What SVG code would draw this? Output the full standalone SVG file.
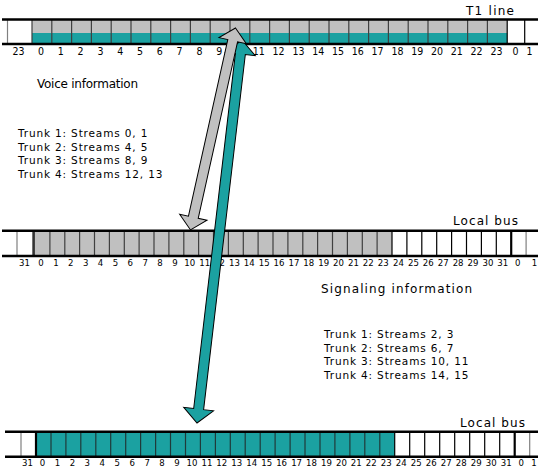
<svg xmlns="http://www.w3.org/2000/svg" width="538" height="470" viewBox="0 0 538 470">
<style>
.bus{stroke:#000;stroke-width:2.4;fill:none}
.sep{stroke:#404040;stroke-width:1.2;fill:none}
.wsep{stroke:#000;stroke-width:1.2;fill:none}
.edge{stroke:#808080;stroke-width:1.2;fill:none}
.thick{stroke:#000;stroke-width:2.2;fill:none}
.num{font-family:"DejaVu Sans",Verdana,sans-serif;font-stretch:condensed;fill:#000;text-anchor:middle}
.n1{font-size:10.5px}
.n2{font-size:9.5px}
.lbl{font-family:"DejaVu Sans",Verdana,sans-serif;font-size:12px;fill:#000}
.trk{font-family:"DejaVu Sans",Verdana,sans-serif;font-size:10.5px;fill:#000;letter-spacing:0.85px}
.gray{fill:#C0C0C0}
.teal{fill:#1BA1A1}
.arrow{stroke:#000;stroke-width:1}
</style>

<g id="t1-line">
<rect class="gray" x="32" y="20" width="475.2" height="13"/>
<rect class="teal" x="32" y="33" width="475.2" height="11"/>
<path class="edge" d="M7.5 20V44"/>
<path class="sep" d="M32 20V44M51.8 20V44M71.6 20V44M91.4 20V44M111.2 20V44M131 20V44M150.8 20V44M170.6 20V44M190.4 20V44M210.2 20V44M230 20V44M249.8 20V44M269.6 20V44M289.4 20V44M309.2 20V44M329 20V44M348.8 20V44M368.6 20V44M388.4 20V44M408.2 20V44M428 20V44M447.8 20V44M467.6 20V44M487.4 20V44"/>
<path class="wsep" d="M507.2 20V44M524.7 20V44"/>
<path class="bus" d="M2 19.5H538M2 44H538"/>
<text class="lbl" x="466" y="14.5" textLength="48" lengthAdjust="spacing">T1 line</text>
<g class="num n1">
<text x="18.5" y="55">23</text>
<text x="41" y="55">0</text><text x="60.8" y="55">1</text><text x="80.6" y="55">2</text><text x="100.4" y="55">3</text><text x="120.2" y="55">4</text><text x="140" y="55">5</text><text x="159.8" y="55">6</text><text x="179.6" y="55">7</text><text x="199.4" y="55">8</text><text x="219.2" y="55">9</text><text x="239" y="55">10</text><text x="258.8" y="55">11</text><text x="278.6" y="55">12</text><text x="298.4" y="55">13</text><text x="318.2" y="55">14</text><text x="338" y="55">15</text><text x="357.8" y="55">16</text><text x="377.6" y="55">17</text><text x="397.4" y="55">18</text><text x="417.2" y="55">19</text><text x="437" y="55">20</text><text x="456.8" y="55">21</text><text x="476.6" y="55">22</text><text x="496.4" y="55">23</text>
<text x="515.5" y="55">0</text><text x="529.5" y="55">1</text>
</g>
</g>

<g id="local-bus-1">
<rect class="gray" x="34" y="231" width="358" height="25"/>
<path class="edge" d="M17 231V256M526.1 231V256"/>
<path class="sep" d="M49.9 231V256M64.8 231V256M79.6 231V256M94.5 231V256M109.4 231V256M124.3 231V256M139.1 231V256M154 231V256M168.9 231V256M183.8 231V256M198.6 231V256M213.5 231V256M228.4 231V256M243.3 231V256M258.1 231V256M273 231V256M287.9 231V256M302.8 231V256M317.6 231V256M332.5 231V256M347.4 231V256M362.3 231V256M377.1 231V256"/>
<path class="thick" style="stroke:#333;stroke-width:2.6" d="M33.6 231V256"/>
<path class="wsep" d="M392 231V256M406.9 231V256M421.8 231V256M436.7 231V256M451.6 231V256M466.5 231V256M481.4 231V256M496.3 231V256"/>
<path class="thick" d="M511.2 231V256"/>
<path class="bus" d="M2 230.7H538M2 256H538"/>
<text class="lbl" x="453" y="224.5" textLength="65" lengthAdjust="spacing">Local bus</text>
<g class="num n2">
<text x="24.5" y="266">31</text>
<text x="41" y="266">0</text><text x="55.9" y="266">1</text><text x="70.8" y="266">2</text><text x="85.7" y="266">3</text><text x="100.5" y="266">4</text><text x="115.4" y="266">5</text><text x="130.3" y="266">6</text><text x="145.2" y="266">7</text><text x="160" y="266">8</text><text x="174.9" y="266">9</text><text x="189.8" y="266">10</text><text x="204.7" y="266">11</text><text x="219.5" y="266">12</text><text x="234.4" y="266">13</text><text x="249.3" y="266">14</text><text x="264.2" y="266">15</text><text x="279" y="266">16</text><text x="293.9" y="266">17</text><text x="308.8" y="266">18</text><text x="323.7" y="266">19</text><text x="338.5" y="266">20</text><text x="353.4" y="266">21</text><text x="368.3" y="266">22</text><text x="383.2" y="266">23</text>
<text x="398.5" y="266">24</text><text x="413.4" y="266">25</text><text x="428.3" y="266">26</text><text x="443.2" y="266">27</text><text x="458.1" y="266">28</text><text x="473" y="266">29</text><text x="487.9" y="266">30</text><text x="502.8" y="266">31</text><text x="517.7" y="266">0</text><text x="534.5" y="266">1</text>
</g>
</g>

<g id="local-bus-2">
<rect class="teal" x="36" y="432" width="358.7" height="24.5"/>
<path class="edge" d="M21 432V456.5M529.7 432V456.5"/>
<path class="sep" style="stroke:#203a3a" d="M51 432V456.5M65.9 432V456.5M80.8 432V456.5M95.8 432V456.5M110.7 432V456.5M125.7 432V456.5M140.6 432V456.5M155.6 432V456.5M170.5 432V456.5M185.5 432V456.5M200.4 432V456.5M215.4 432V456.5M230.3 432V456.5M245.2 432V456.5M260.2 432V456.5M275.1 432V456.5M290.1 432V456.5M305 432V456.5M320 432V456.5M334.9 432V456.5M349.9 432V456.5M364.8 432V456.5M379.8 432V456.5"/>
<path class="thick" d="M36 432V456.5"/>
<path class="wsep" d="M394.7 432V456.5M409.7 432V456.5M424.7 432V456.5M439.7 432V456.5M454.7 432V456.5M469.7 432V456.5M484.7 432V456.5M499.7 432V456.5"/>
<path class="thick" d="M514.7 432V456.5"/>
<path class="bus" d="M5 431.7H538M5 456.7H538"/>
<text class="lbl" x="460" y="427" textLength="65" lengthAdjust="spacing">Local bus</text>
<g class="num n2">
<text x="27.5" y="466">31</text>
<text x="42.5" y="466">0</text><text x="57.4" y="466">1</text><text x="72.4" y="466">2</text><text x="87.3" y="466">3</text><text x="102.3" y="466">4</text><text x="117.2" y="466">5</text><text x="132.2" y="466">6</text><text x="147.1" y="466">7</text><text x="162" y="466">8</text><text x="177" y="466">9</text><text x="191.9" y="466">10</text><text x="206.9" y="466">11</text><text x="221.8" y="466">12</text><text x="236.8" y="466">13</text><text x="251.7" y="466">14</text><text x="266.7" y="466">15</text><text x="281.6" y="466">16</text><text x="296.6" y="466">17</text><text x="311.5" y="466">18</text><text x="326.5" y="466">19</text><text x="341.4" y="466">20</text><text x="356.3" y="466">21</text><text x="371.3" y="466">22</text><text x="386.2" y="466">23</text>
<text x="401.2" y="466">24</text><text x="416.2" y="466">25</text><text x="431.2" y="466">26</text><text x="446.2" y="466">27</text><text x="461.2" y="466">28</text><text x="476.2" y="466">29</text><text x="491.2" y="466">30</text><text x="506.2" y="466">31</text><text x="521.2" y="466">0</text><text x="534" y="466">1</text>
</g>
</g>

<g id="voice-text">
<text class="lbl" x="37" y="88" textLength="101" lengthAdjust="spacing">Voice information</text>
<text class="trk" x="18" y="137">Trunk 1: Streams 0, 1</text>
<text class="trk" x="18" y="150.5">Trunk 2: Streams 4, 5</text>
<text class="trk" x="18" y="164">Trunk 3: Streams 8, 9</text>
<text class="trk" x="18" y="177.5">Trunk 4: Streams 12, 13</text>
</g>

<g id="signaling-text">
<text class="lbl" x="321" y="293" textLength="151" lengthAdjust="spacing">Signaling information</text>
<text class="trk" x="324" y="338">Trunk 1: Streams 2, 3</text>
<text class="trk" x="324" y="351.5">Trunk 2: Streams 6, 7</text>
<text class="trk" x="324" y="365">Trunk 3: Streams 10, 11</text>
<text class="trk" x="324" y="378.5">Trunk 4: Streams 14, 15</text>
</g>

<g id="connectors">
<polygon class="arrow teal" transform="translate(242 40) rotate(96.7)" points="0,0 14,-15 14,-5 371.6,-5 371.6,-15 385.6,0 371.6,15 371.6,5 14,5 14,15"/>
<polygon class="arrow gray" transform="translate(235.5 28) rotate(102.56)" points="0,0 13,-14 13,-5 193.9,-5 193.9,-14 206.9,0 193.9,14 193.9,5 13,5 13,14"/>
</g>
</svg>
